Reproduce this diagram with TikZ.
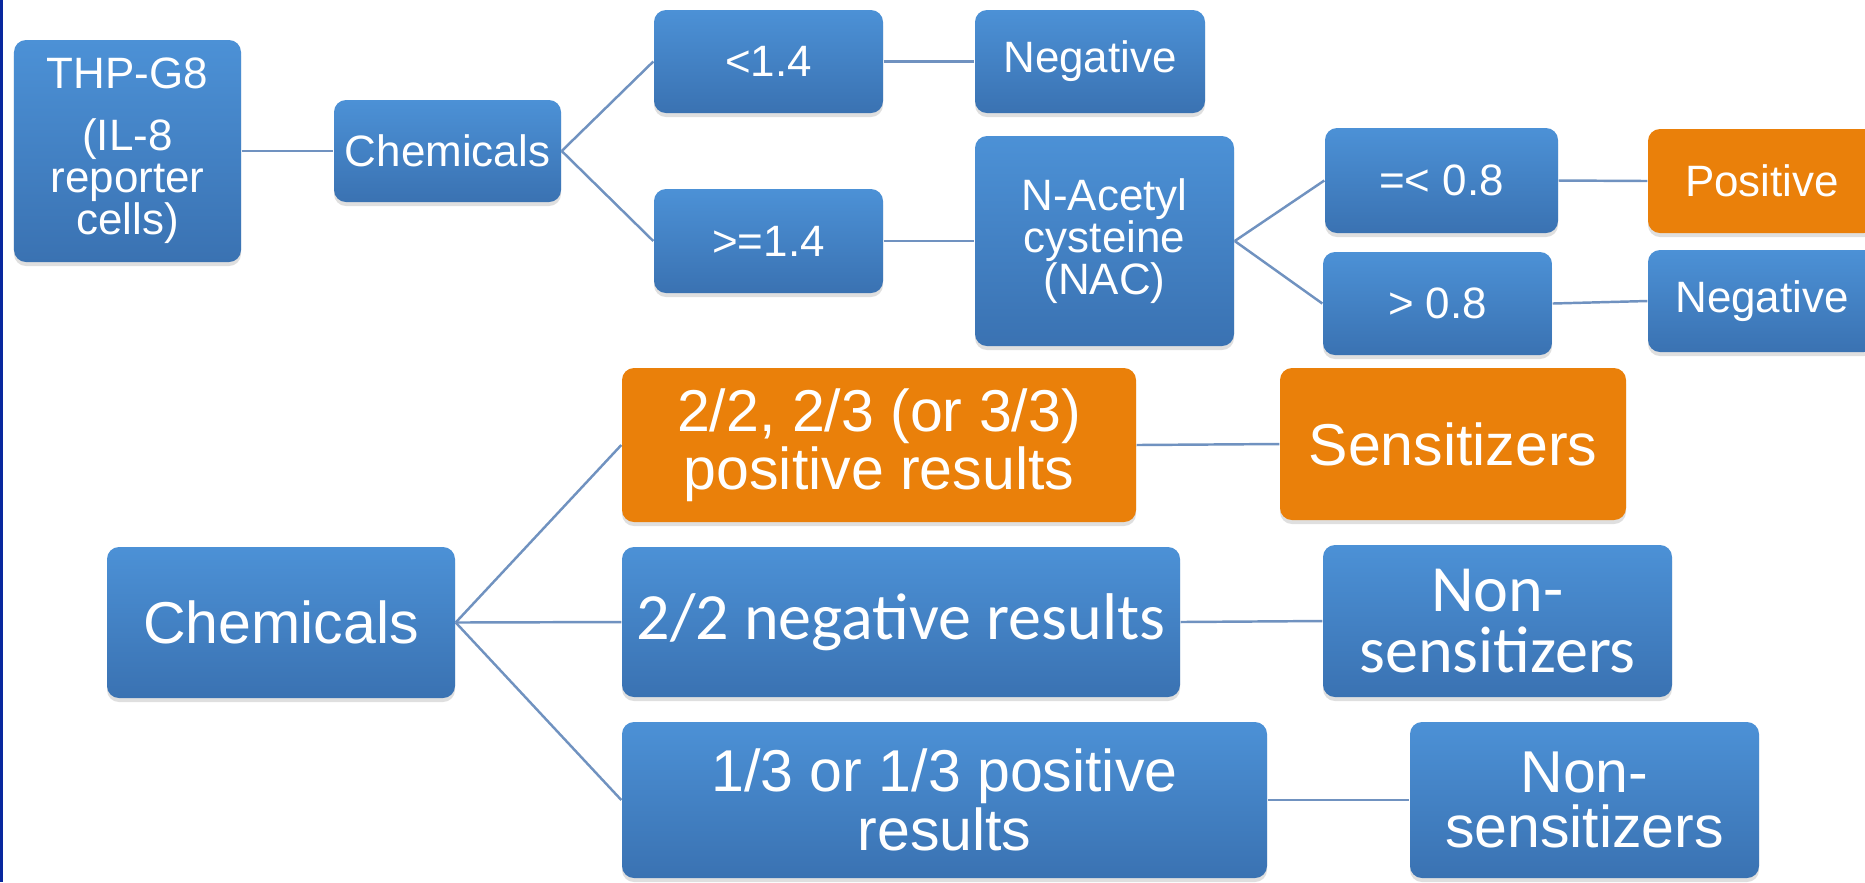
\documentclass[tikz,border=0pt]{standalone}
\usepackage{fontspec}
\setmainfont{Liberation Sans}
\newfontfamily\calib{Carlito}
\usetikzlibrary{shadows}
\definecolor{boxtop}{RGB}{76,145,214}
\definecolor{boxbot}{RGB}{58,114,178}
\definecolor{boxorange}{RGB}{234,128,10}
\definecolor{linkblue}{RGB}{112,146,192}
\definecolor{edgeblue}{RGB}{8,40,158}

\begin{document}
\begin{tikzpicture}[
    card/.style={rounded corners=0.12cm, text=white, align=center, inner sep=0pt,
        drop shadow={shadow xshift=0pt, shadow yshift=-0.04cm, opacity=0.25}},
    bluecard/.style={card, top color=boxtop, bottom color=boxbot},
    orangecard/.style={card, fill=boxorange},
    toptext/.style={font=\fontsize{12.5}{12}\selectfont},
    bigtext/.style={font=\fontsize{16.8}{14.5}\selectfont},
    calitext/.style={font=\calib\fontsize{18.8}{17.5}\selectfont},
    link/.style={draw=linkblue, line width=0.7pt}]
    \useasboundingbox (0,0) rectangle (18.65,-8.82);
    \fill[white] (0,0) rectangle (18.65,-8.82);
    \fill[edgeblue] (0,0) rectangle (0.03,-8.82);

    \node[bluecard, toptext, minimum width=2.27cm, minimum height=2.22cm, font=\fontsize{12.5}{12}\selectfont] (thp) at (1.275,-1.51) {THP-G8\\[5.5pt](IL-8\\reporter\\cells)};
    \node[bluecard, toptext, minimum width=2.27cm, minimum height=1.02cm] (chemA) at (4.475,-1.51) {Chemicals};
    \node[bluecard, toptext, minimum width=2.29cm, minimum height=1.03cm] (low) at (7.685,-0.615) {<1.4};
    \node[bluecard, toptext, minimum width=2.30cm, minimum height=1.03cm] (negA) at (10.90,-0.615) {Negative};
    \node[bluecard, toptext, minimum width=2.29cm, minimum height=1.04cm] (high) at (7.685,-2.41) {>=1.4};
    \node[bluecard, toptext, minimum width=2.59cm, minimum height=2.10cm] (nac) at (11.045,-2.41) {N-Acetyl\\cysteine\\(NAC)};
    \node[bluecard, toptext, minimum width=2.33cm, minimum height=1.05cm] (le) at (14.415,-1.805) {=< 0.8};
    \node[bluecard, toptext, minimum width=2.29cm, minimum height=1.03cm] (gt) at (14.375,-3.035) {> 0.8};
    \node[orangecard, toptext, minimum width=2.28cm, minimum height=1.04cm] (pos) at (17.62,-1.81) {Positive};
    \node[bluecard, toptext, minimum width=2.28cm, minimum height=1.02cm] (negB) at (17.62,-3.01) {Negative};

    \node[bluecard, bigtext, minimum width=3.48cm, minimum height=1.51cm] (chemB) at (2.81,-6.225) {Chemicals};
    \node[orangecard, bigtext, minimum width=5.14cm, minimum height=1.54cm] (posres) at (8.79,-4.45) {2/2, 2/3 (or 3/3)\\positive results};
    \node[orangecard, bigtext, minimum width=3.46cm, minimum height=1.52cm] (sens) at (14.53,-4.44) {Sensitizers};
    \node[bluecard, calitext, minimum width=5.58cm, minimum height=1.50cm] (negres) at (9.01,-6.22) {2/2 negative results};
    \node[bluecard, calitext, minimum width=3.49cm, minimum height=1.52cm] (nonA) at (14.975,-6.21) {Non-\\sensitizers};
    \node[bluecard, bigtext, minimum width=6.45cm, minimum height=1.56cm, font=\fontsize{16.8}{15.5}\selectfont] (thirds) at (9.445,-8.00) {1/3 or 1/3 positive\\results};
    \node[bluecard, bigtext, minimum width=3.49cm, minimum height=1.56cm, font=\fontsize{16.8}{15.8}\selectfont] (nonB) at (15.845,-8.00) {Non-\\sensitizers};

    \draw[link] (thp.east) -- (chemA.west);
    \draw[link] (chemA.east) -- (low.west);
    \draw[link] (chemA.east) -- (high.west);
    \draw[link] (low.east) -- (negA.west);
    \draw[link] (high.east) -- (nac.west);
    \draw[link] (nac.east) -- (le.west);
    \draw[link] (nac.east) -- (gt.west);
    \draw[link] (le.east) -- (pos.west);
    \draw[link] (gt.east) -- (negB.west);
    \draw[link] (chemB.east) -- (posres.west);
    \draw[link] (chemB.east) -- (negres.west);
    \draw[link] (chemB.east) -- (thirds.west);
    \draw[link] (posres.east) -- (sens.west);
    \draw[link] (negres.east) -- (nonA.west);
    \draw[link] (thirds.east) -- (nonB.west);
\end{tikzpicture}
\end{document}
